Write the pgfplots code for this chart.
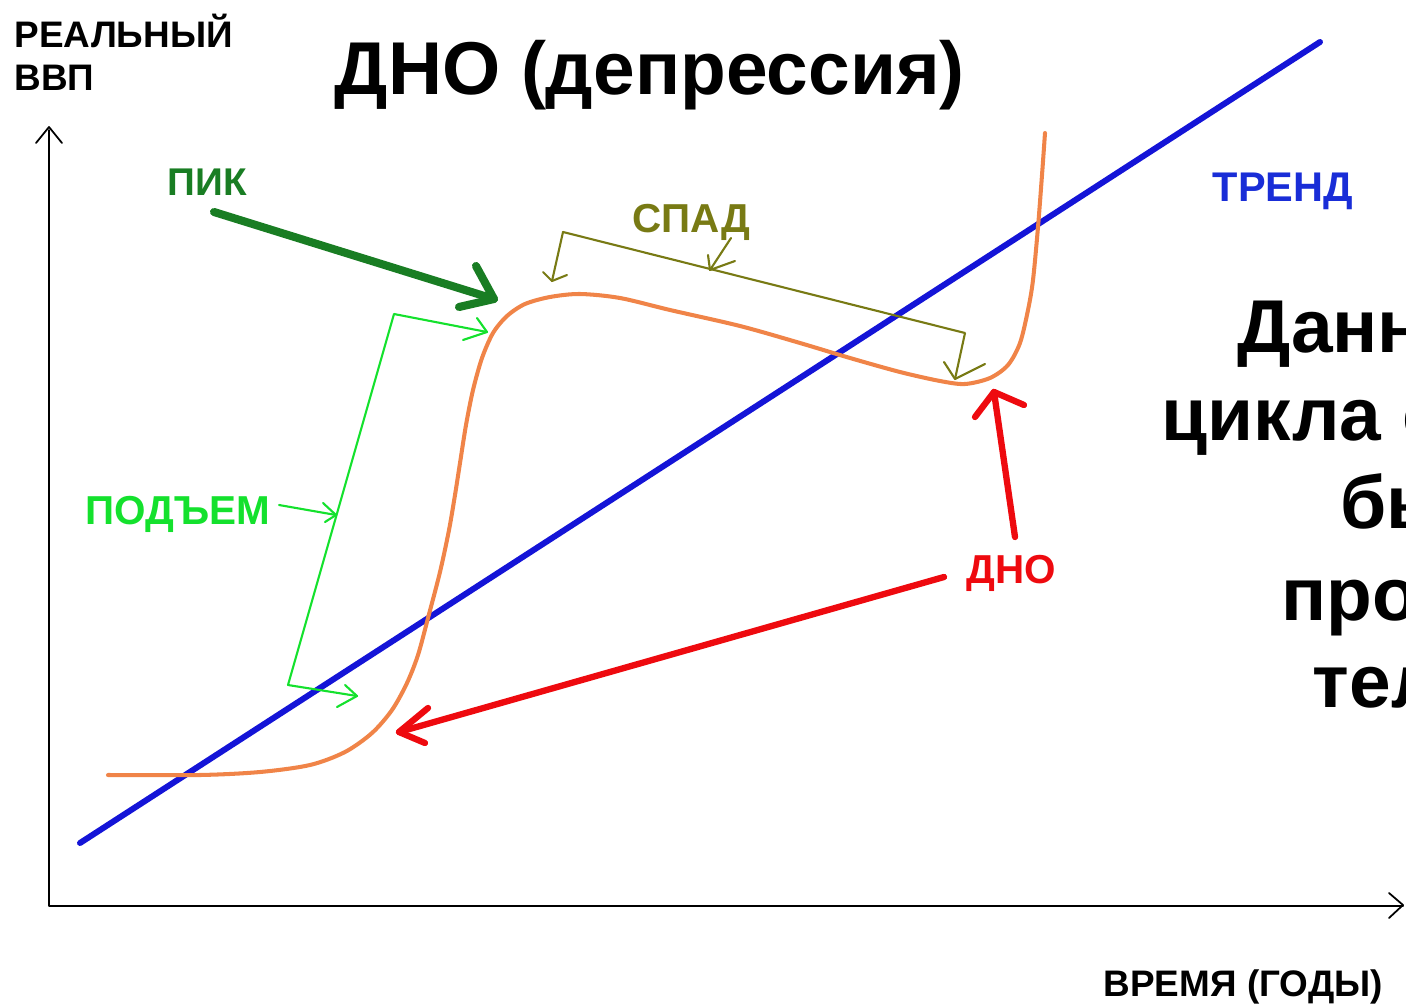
\documentclass[border=0pt]{standalone}
\usepackage{pgfplots}
\pgfplotsset{compat=1.18}
\usepackage{fontspec}
\setmainfont{Liberation Sans}

\definecolor{trendblue}{RGB}{20,20,215}
\definecolor{cycleorange}{RGB}{240,132,72}
\definecolor{pikgreen}{RGB}{25,125,35}
\definecolor{upgreen}{RGB}{20,225,45}
\definecolor{olivebr}{RGB}{120,122,20}
\definecolor{dnored}{RGB}{238,10,15}
\definecolor{labelblue}{RGB}{25,45,215}

\begin{document}
\begin{tikzpicture}[every node/.style={overlay, inner sep=0pt, anchor=base west}]
\begin{axis}[
  width=14.06cm, height=10.05cm, scale only axis,
  xmin=0, xmax=1406, ymin=0, ymax=1005, y dir=reverse,
  hide axis, clip=false,
  line cap=round, line join=round,
]
% whole slide as the page
\path (axis cs:0,0) rectangle (axis cs:1406,1005);

% axes of the sketch
\addplot[black, line width=0.55pt] coordinates {(49,130) (49,906) (1403,906)};
\draw[black, line width=0.5pt] (axis cs:36,143) -- (axis cs:49,127) -- (axis cs:62,143);
\draw[black, line width=0.5pt] (axis cs:1389,893) -- (axis cs:1403,905) -- (axis cs:1389,918);

% trend
\addplot[trendblue, line width=1.7pt] coordinates {(80,843) (1320,42)};

% business cycle
\addplot[cycleorange, line width=1.15pt, smooth, tension=0.5] coordinates {
(108,775) (200,775) (260,772) (310,765) (345,752) (372,733) (392,710)
(407,683) (418,655) (428,618) (440,572) (449,530) (455,495) (460,463)
(466,425) (473,390) (482,358) (493,333) (507,316) (525,304) (550,297)
(580,294) (620,298) (670,310) (740,326) (800,343) (850,358) (900,372)
(940,381) (965,384) (990,378) (1008,365) (1020,343) (1028,310)
(1033,280) (1038,227) (1042,175) (1045,133)};

% labels
\node[font=\fontsize{21.3}{25}\selectfont\bfseries] at (axis cs:334,95) {ДНО (депрессия)};
\node[font=\fontsize{10.5}{12}\selectfont\bfseries] at (axis cs:14,47) {РЕАЛЬНЫЙ};
\node[font=\fontsize{10.5}{12}\selectfont\bfseries] at (axis cs:14,90) {ВВП};
\node[font=\fontsize{10.5}{12}\selectfont\bfseries] at (axis cs:1103,996) {ВРЕМЯ (ГОДЫ)};
\node[text=labelblue, font=\fontsize{11.8}{13}\selectfont\bfseries] at (axis cs:1212,201) {ТРЕНД};
\node[text=pikgreen, font=\fontsize{11}{13}\selectfont\bfseries] at (axis cs:167,195) {ПИК};
\node[text=olivebr, font=\fontsize{11.5}{13}\selectfont\bfseries] at (axis cs:632,232) {СПАД};
\node[text=upgreen, font=\fontsize{11.5}{13}\selectfont\bfseries] at (axis cs:85,524) {ПОДЪЕМ};
\node[text=dnored, font=\fontsize{11.5}{13}\selectfont\bfseries] at (axis cs:966,583) {ДНО};

% side text, running off the right edge as in the original slide
\node[font=\fontsize{21.3}{25}\selectfont\bfseries] at (axis cs:1237,352) {Данные};
\node[font=\fontsize{21.3}{25}\selectfont\bfseries] at (axis cs:1161,440) {цикла с};
\node[font=\fontsize{21.3}{25}\selectfont\bfseries] at (axis cs:1340,528) {бы};
\node[font=\fontsize{21.3}{25}\selectfont\bfseries] at (axis cs:1281,620) {про};
\node[font=\fontsize{21.3}{25}\selectfont\bfseries] at (axis cs:1312,707) {тел};

% peak arrow
\draw[pikgreen, line width=2.3pt] (axis cs:214,212) -- (axis cs:494,299);
\draw[pikgreen, line width=2.3pt] (axis cs:476,266) -- (axis cs:494,299) -- (axis cs:459,307);

% recession bracket
\draw[olivebr, line width=0.6pt] (axis cs:552,281) -- (axis cs:563,232) -- (axis cs:965,333) -- (axis cs:955,379);
\draw[olivebr, line width=0.6pt] (axis cs:543,272) -- (axis cs:552,281) -- (axis cs:567,275);
\draw[olivebr, line width=0.6pt] (axis cs:944,362) -- (axis cs:955,379) -- (axis cs:985,364);
\draw[olivebr, line width=0.6pt] (axis cs:731,238) -- (axis cs:710,270);
\draw[olivebr, line width=0.6pt] (axis cs:708,255) -- (axis cs:710,270) -- (axis cs:735,261);

% expansion bracket
\draw[upgreen, line width=0.6pt] (axis cs:487,332) -- (axis cs:394,314) -- (axis cs:288,685) -- (axis cs:357,696);
\draw[upgreen, line width=0.6pt] (axis cs:477,318) -- (axis cs:487,332) -- (axis cs:463,340);
\draw[upgreen, line width=0.6pt] (axis cs:345,685) -- (axis cs:357,696) -- (axis cs:337,707);
\draw[upgreen, line width=0.6pt] (axis cs:279,505) -- (axis cs:336,515);
\draw[upgreen, line width=0.6pt] (axis cs:323,503) -- (axis cs:336,515) -- (axis cs:325,522);

% trough arrows
\draw[dnored, line width=1.8pt] (axis cs:944,577) -- (axis cs:399,732);
\draw[dnored, line width=1.8pt] (axis cs:428,708) -- (axis cs:399,732) -- (axis cs:425,743);
\draw[dnored, line width=1.8pt] (axis cs:1015,537) -- (axis cs:994,392);
\draw[dnored, line width=1.8pt] (axis cs:975,417) -- (axis cs:994,392) -- (axis cs:1024,405);
\end{axis}
\end{tikzpicture}
\end{document}
